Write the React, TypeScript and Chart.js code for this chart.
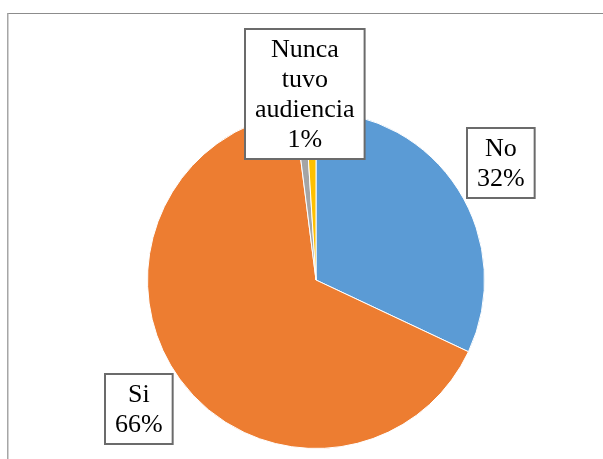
import React, { useEffect, useRef } from "react";
import { Chart, registerables } from "chart.js";

Chart.register(...registerables);

const categories = ["No", "Si", "", "Nunca tuvo audiencia"];
const labelLines = [["No"], ["Si"], [], ["Nunca", "tuvo", "audiencia"]];
const values = [32, 66, 1, 1];
const colors = ["#5B9BD5", "#ED7D31", "#A5A5A5", "#FFC000"];

const W = 603;
const H = 459;

const framePlugin = {
  id: "frame",
  beforeDraw(chart: any) {
    const ctx = chart.ctx;
    ctx.save();
    ctx.fillStyle = "#ffffff";
    ctx.fillRect(0, 0, chart.width, chart.height);
    ctx.fillStyle = "#8c8c8c";
    ctx.fillRect(7, 13, chart.width - 7, 1);
    ctx.fillStyle = "#a6a6a6";
    ctx.fillRect(7, 13, 1.5, chart.height - 13);
    ctx.restore();
  },
};

const labelPlugin = {
  id: "boxLabels",
  afterDatasetsDraw(chart: any) {
    const ctx = chart.ctx;
    const meta = chart.getDatasetMeta(0);
    const data = chart.data.datasets[0].data as number[];
    const total = data.reduce((a, b) => a + b, 0);
    const lineH = 30;
    const padX = 10;
    const padY = 5;
    ctx.save();
    ctx.font = '26px "Liberation Serif", "Times New Roman", serif';
    ctx.textAlign = "center";
    ctx.textBaseline = "middle";
    meta.data.forEach((arc: any, i: number) => {
      const lines = labelLines[i];
      if (!lines || lines.length === 0) return;
      const p = arc.getProps(["x", "y", "startAngle", "endAngle", "outerRadius"], true);
      const mid = (p.startAngle + p.endAngle) / 2;
      const all = [...lines, Math.round((data[i] / total) * 100) + "%"];
      const tw = Math.max(...all.map((t) => ctx.measureText(t).width));
      const bw = tw + padX * 2;
      const bh = all.length * lineH + padY * 2;
      const dist = p.outerRadius * 1.3;
      let cx = p.x + Math.cos(mid) * dist;
      let cy = p.y + Math.sin(mid) * dist;
      const minTop = 29;
      if (cy - bh / 2 < minTop) {
        cy = minTop + bh / 2;
        cx = p.x + Math.cos(mid) * dist * 1.6;
      }
      const bx = Math.round(cx - bw / 2);
      const by = Math.round(cy - bh / 2);
      ctx.fillStyle = "#ffffff";
      ctx.fillRect(bx, by, bw, bh);
      ctx.strokeStyle = "#6b6b6b";
      ctx.lineWidth = 2;
      ctx.strokeRect(bx, by, bw, bh);
      ctx.fillStyle = "#000000";
      all.forEach((t, k) => {
        ctx.fillText(t, bx + bw / 2, by + padY + lineH * k + lineH / 2 + 1);
      });
    });
    ctx.restore();
  },
};

export default function App() {
  const ref = useRef<HTMLCanvasElement | null>(null);
  useEffect(() => {
    document.body.style.margin = "0";
    if (!ref.current) return;
    const chart = new Chart(ref.current, {
      type: "pie",
      data: {
        labels: categories,
        datasets: [
          {
            data: values,
            backgroundColor: colors,
            borderColor: "#ffffff",
            borderWidth: 1,
          },
        ],
      },
      options: {
        responsive: false,
        animation: false,
        layout: { padding: { left: 147, right: 118, top: 111, bottom: 10 } },
        plugins: {
          legend: { display: false },
          tooltip: { enabled: false },
        },
      },
      plugins: [framePlugin, labelPlugin],
    });
    return () => chart.destroy();
  }, []);
  return (
    <div style={{ width: W, height: H }}>
      <canvas ref={ref} width={W} height={H} style={{ display: "block" }} />
    </div>
  );
}
